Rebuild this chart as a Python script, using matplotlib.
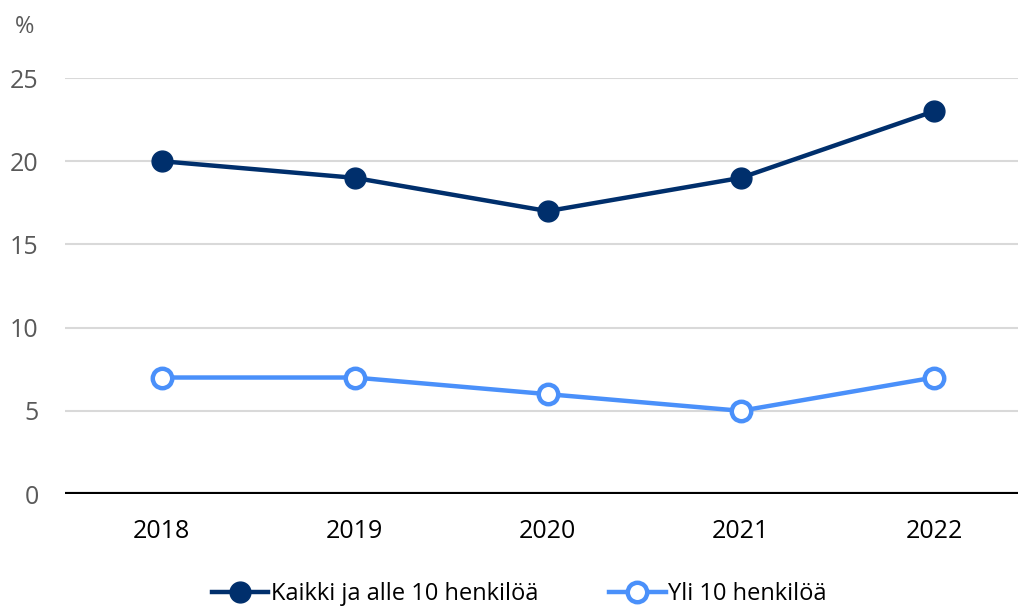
import matplotlib
matplotlib.use("Agg")
import matplotlib.pyplot as plt
from matplotlib import font_manager

# condensed font if present, else fall back
names = {f.name for f in font_manager.fontManager.ttflist}
fam = "Liberation Sans Narrow" if "Liberation Sans Narrow" in names else "Open Sans"
plt.rcParams['font.family'] = [fam, 'DejaVu Sans']

years = ["2018", "2019", "2020", "2021", "2022"]
kaikki = [20, 19, 17, 19, 23]
yli10 = [7, 7, 6, 5, 7]

dark = "#002f6c"
light = "#4a90fa"

fig = plt.figure(figsize=(10.18, 6.07), dpi=100)
ax = fig.add_axes([65/1018, (607-494)/607, (1030.5-65)/1018, (494-78)/607])

x = range(len(years))
ax.plot(x, kaikki, color=dark, lw=3.2, marker="o", ms=15,
        mfc=dark, mec=dark, label="Kaikki ja alle 10 henkilöä", clip_on=False, zorder=3)
ax.plot(x, yli10, color=light, lw=3.2, marker="o", ms=14, mew=3.2,
        mfc="white", mec=light, label="Yli 10 henkilöä", clip_on=False, zorder=3)

ax.set_xlim(-0.5, 4.5)
ax.set_ylim(0, 25)
ax.set_yticks([0, 5, 10, 15, 20, 25])
ax.set_xticks(list(x))
ax.set_xticklabels(years)
ax.grid(axis="y", color="#d9d9d9", lw=1.5)
ax.set_axisbelow(True)
ax.axhline(0, color="black", lw=3, zorder=2)
for s in ax.spines.values():
    s.set_visible(False)
ax.tick_params(length=0)
ax.tick_params(axis="y", labelsize=18, labelcolor="#595959", pad=19)
ax.tick_params(axis="x", labelsize=18, labelcolor="black", pad=18)

fig.text(25/1018, 1 - 27/607, "%", fontsize=17, color="#595959", ha="center", va="center")

fig.legend(loc="center", bbox_to_anchor=(0.51, 1 - 594/607), ncol=2, frameon=False,
           fontsize=17, handlelength=2.4, handletextpad=0.1, columnspacing=3.0,
           borderaxespad=0)

fig.savefig("out.png", dpi=100)
